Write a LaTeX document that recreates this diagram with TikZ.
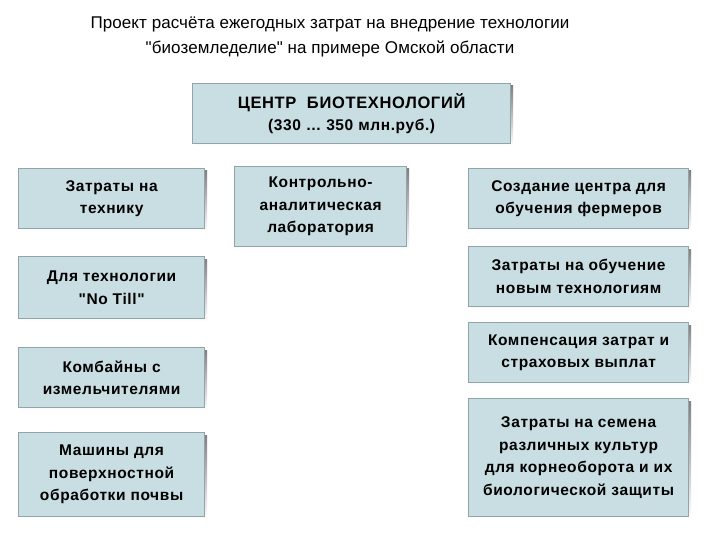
\documentclass[tikz,border=0pt]{standalone}
\usepackage{fontspec}
\setmainfont{Liberation Sans}
\newfontfamily\boxfont[LetterSpace=4]{Liberation Sans}
\newfontfamily\titlefont[LetterSpace=0.5]{Liberation Sans}
\definecolor{boxfill}{HTML}{C8DEE2}
\definecolor{boxline}{HTML}{8FA5AA}
\definecolor{shade}{HTML}{D0D0D0}
\begin{document}
\begin{tikzpicture}[x=1pt,y=-1pt,
  bx/.style={draw=boxline,line width=1.2pt,fill=boxfill,align=center,font=\boxfont\bfseries\fontsize{15.5}{22.5}\selectfont,
    inner sep=0pt,anchor=north west},
]
\useasboundingbox (0,0) rectangle (720,540);
\fill[white] (0,0) rectangle (720,540);
\node[font=\titlefont\fontsize{17}{25}\selectfont,align=center] (title) at (330,37) {Проект расчёта ежегодных затрат на внедрение технологии\\\symbol{34}биоземледелие\symbol{34} на примере Омской области};
\newcommand\mybox[6]{%
  \fill[shade] (#2+3,#3+3) rectangle (#4+3,#5+3);
  \node[bx,minimum width=#4-#2,minimum height=#5-#3] (#1) at (#2,#3) {#6};}
\mybox{c}{192}{83}{510}{143}{\fontsize{16.5}{28}\selectfont ЦЕНТР\ \ БИОТЕХНОЛОГИЙ\\(330 … 350 млн.руб.)}
\mybox{l1}{18}{168}{204}{228}{Затраты на\\технику}
\mybox{l2}{18}{256}{204}{318}{Для технологии\\\symbol{34}No Till\symbol{34}}
\mybox{l3}{18}{347}{204}{407}{Комбайны с\\измельчителями}
\mybox{l4}{18}{432}{204}{516}{Машины для\\поверхностной\\обработки почвы}
\mybox{m}{234}{166}{406}{246}{Контрольно-\\аналитическая\\лаборатория}
\mybox{r1}{468}{168}{688}{228}{Создание центра для\\обучения фермеров}
\mybox{r2}{468}{246}{688}{306}{Затраты на обучение\\новым технологиям}
\mybox{r3}{468}{322}{688}{382}{Компенсация затрат и\\страховых выплат}
\mybox{r4}{468}{398}{688}{516}{Затраты на семена\\различных культур\\для корнеоборота и их\\биологической защиты}
\end{tikzpicture}
\end{document}
